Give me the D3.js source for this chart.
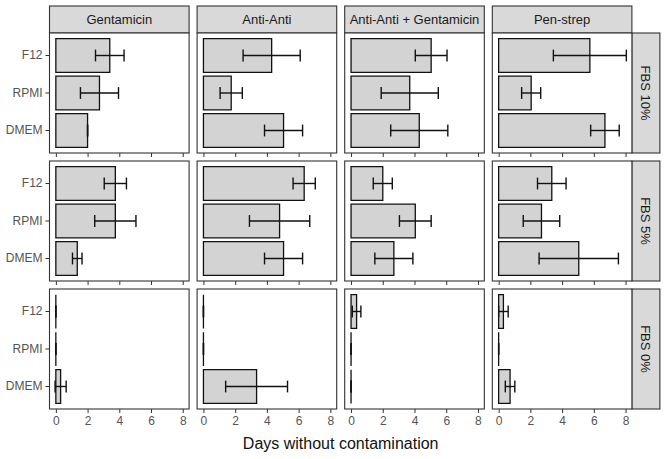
<!DOCTYPE html>
<html>
<head>
<meta charset="utf-8">
<script src="https://cdn.jsdelivr.net/npm/d3@7"></script>
<style>
  html, body { margin: 0; padding: 0; background: #fff; }
  svg { display: block; font-family: "Liberation Sans", Arial, sans-serif; }
</style>
</head>
<body>
<svg id="chart" width="666" height="459"></svg>
<script>
// ---- data ----
const antibiotics = ["Gentamicin", "Anti-Anti", "Anti-Anti + Gentamicin", "Pen-strep"];
const fbsLevels = ["FBS 10%", "FBS 5%", "FBS 0%"];
const media = ["F12", "RPMI", "DMEM"];
const xTicks = [0, 2, 4, 6, 8];

// mean days per antibiotic (rows: antibiotics, cols: F12, RPMI, DMEM)
const meanFBS10 = [[3.4, 2.75, 2.0], [4.3, 1.75, 5.05], [5.05, 3.7, 4.3], [5.75, 2.05, 6.7]];
const sdFBS10   = [[0.9, 1.2, 0.0], [1.8, 0.7, 1.2], [1.0, 1.8, 1.8], [2.3, 0.6, 0.9]];
const meanFBS5  = [[3.75, 3.75, 1.35], [6.35, 4.8, 5.05], [2.0, 4.05, 2.7], [3.35, 2.7, 5.05]];
const sdFBS5    = [[0.7, 1.3, 0.3], [0.7, 1.9, 1.2], [0.6, 1.0, 1.2], [0.9, 1.15, 2.5]];
const meanFBS0  = [[0.0, 0.0, 0.3], [0.0, 0.0, 3.35], [0.35, 0.0, 0.0], [0.3, 0.0, 0.72]];
const sdFBS0    = [[0.0, 0.0, 0.35], [0.0, 0.0, 1.95], [0.27, 0.0, 0.0], [0.3, 0.0, 0.3]];

const meansByFbs = [meanFBS10, meanFBS5, meanFBS0];
const sdsByFbs = [sdFBS10, sdFBS5, sdFBS0];

// ---- layout ----
const plotLeft = 49.5, plotTop = 33;
const panelW = 139.6, panelH = 120, gapX = 8, gapY = 8;
const stripTopY = 6, stripRightW = 28;
const border = "#333333";

const svg = d3.select("#chart");

const x = d3.scaleLinear().domain([-0.4, 8.4]).range([0, panelW]);
const y = d3.scaleBand().domain(media).range([0, panelH]).paddingInner(0.1).paddingOuter(0.15);
const capH = y.bandwidth() * 0.35;

function rectPath(x0, y0, x1, y1) {
  return `M${x0},${y0}H${x1}V${y1}H${x0}Z`;
}

antibiotics.forEach((ab, ci) => {
  const px = plotLeft + ci * (panelW + gapX);
  svg.append("rect")
    .attr("x", px).attr("y", stripTopY)
    .attr("width", panelW).attr("height", plotTop - stripTopY)
    .attr("fill", "#d9d9d9").attr("stroke", border).attr("stroke-width", 1.1);
  svg.append("text")
    .attr("x", px + panelW / 2).attr("y", (stripTopY + plotTop) / 2)
    .attr("dy", "0.35em").attr("text-anchor", "middle")
    .attr("font-size", 13).attr("fill", "#1a1a1a").text(ab);
});

fbsLevels.forEach((fbs, ri) => {
  const py = plotTop + ri * (panelH + gapY);
  const sx = plotLeft + 4 * panelW + 3 * gapX;
  svg.append("rect")
    .attr("x", sx).attr("y", py)
    .attr("width", stripRightW).attr("height", panelH)
    .attr("fill", "#d9d9d9").attr("stroke", border).attr("stroke-width", 1.1);
  svg.append("text")
    .attr("transform", `translate(${sx + stripRightW / 2},${py + panelH / 2}) rotate(90)`)
    .attr("dy", "0.35em").attr("text-anchor", "middle")
    .attr("font-size", 13).attr("fill", "#1a1a1a").text(fbs);

  antibiotics.forEach((ab, ci) => {
    const px = plotLeft + ci * (panelW + gapX);
    const g = svg.append("g").attr("transform", `translate(${px},${py})`);
    g.append("rect").attr("width", panelW).attr("height", panelH).attr("fill", "#fff");

    const means = meansByFbs[ri][ci];
    const sds = sdsByFbs[ri][ci];
    const rows = media.map((m, k) => ({ m, mean: means[k], sd: sds[k] }));

    g.selectAll("path.bar").data(rows).enter().append("path")
      .attr("class", "bar")
      .attr("d", d => rectPath(x(0), y(d.m), x(d.mean), y(d.m) + y.bandwidth()))
      .attr("fill", "#d3d3d3").attr("stroke", "#111").attr("stroke-width", 1.3);

    const eb = g.selectAll("g.eb").data(rows).enter().append("g").attr("class", "eb")
      .attr("stroke", "#111").attr("stroke-width", 1.4);
    eb.append("line")
      .attr("x1", d => x(d.mean - d.sd)).attr("x2", d => x(d.mean + d.sd))
      .attr("y1", d => y(d.m) + y.bandwidth() / 2).attr("y2", d => y(d.m) + y.bandwidth() / 2);
    eb.append("line")
      .attr("x1", d => x(d.mean - d.sd)).attr("x2", d => x(d.mean - d.sd))
      .attr("y1", d => y(d.m) + y.bandwidth() / 2 - capH / 2).attr("y2", d => y(d.m) + y.bandwidth() / 2 + capH / 2);
    eb.append("line")
      .attr("x1", d => x(d.mean + d.sd)).attr("x2", d => x(d.mean + d.sd))
      .attr("y1", d => y(d.m) + y.bandwidth() / 2 - capH / 2).attr("y2", d => y(d.m) + y.bandwidth() / 2 + capH / 2);

    g.append("rect").attr("width", panelW).attr("height", panelH)
      .attr("fill", "none").attr("stroke", border).attr("stroke-width", 1.1);

    const xAxis = d3.axisBottom(x).tickValues(xTicks).tickSize(4).tickPadding(3)
      .tickFormat(ri === fbsLevels.length - 1 ? d3.format("d") : () => "");
    const xa = g.append("g").attr("transform", `translate(0,${panelH})`).call(xAxis);
    xa.select(".domain").remove();
    xa.selectAll(".tick line").attr("stroke", border);
    xa.selectAll(".tick text").attr("font-size", 12).attr("fill", "#555")
      .attr("font-family", "Liberation Sans, Arial, sans-serif");

    if (ci === 0) {
      const yAxis = d3.axisLeft(y).tickSize(4).tickPadding(3);
      const ya = g.append("g").call(yAxis);
      ya.select(".domain").remove();
      ya.selectAll(".tick line").attr("stroke", border);
      ya.selectAll(".tick text").attr("font-size", 12).attr("fill", "#555")
        .attr("font-family", "Liberation Sans, Arial, sans-serif");
    }
  });
});

const plotRight = plotLeft + 4 * panelW + 3 * gapX;
svg.append("text")
  .attr("x", (plotLeft + plotRight) / 2).attr("y", 449)
  .attr("text-anchor", "middle").attr("font-size", 16).attr("fill", "#111")
  .text("Days without contamination");
</script>
</body>
</html>
